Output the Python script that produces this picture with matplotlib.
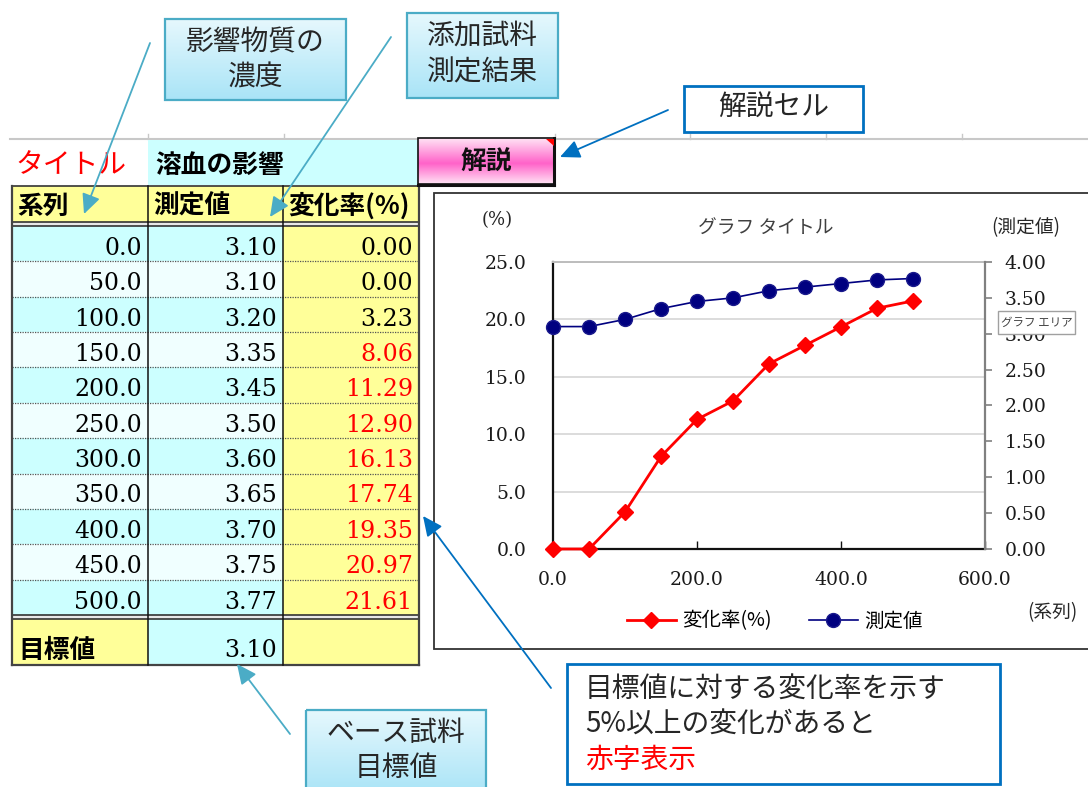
import matplotlib
matplotlib.use("Agg")
import matplotlib.pyplot as plt
import matplotlib.colors as mcolors
import numpy as np
from matplotlib.patches import Rectangle, FancyArrowPatch, Polygon

plt.rcParams['font.family'] = ['Noto Sans CJK JP', 'DejaVu Sans']

# ---- data -------------------------------------------------------------
concentration = [0.0, 50.0, 100.0, 150.0, 200.0, 250.0, 300.0, 350.0, 400.0, 450.0, 500.0]
measured = [3.10, 3.10, 3.20, 3.35, 3.45, 3.50, 3.60, 3.65, 3.70, 3.75, 3.77]
change_rate = [0.00, 0.00, 3.23, 8.06, 11.29, 12.90, 16.13, 17.74, 19.35, 20.97, 21.61]
target_value = 3.10
red_threshold = 5.0
sheet_title = "溶血の影響"
header_labels = ["系列", "測定値", "変化率(%)"]
rate_ticks = [0, 5, 10, 15, 20, 25]
value_ticks = [0.0, 0.5, 1.0, 1.5, 2.0, 2.5, 3.0, 3.5, 4.0]
conc_ticks = [0, 200, 400, 600]

W, H = 1088, 787
fig = plt.figure(figsize=(W / 100, H / 100), dpi=100)
fig.patch.set_facecolor('white')


def pix_axes(z):
    a = fig.add_axes([0, 0, 1, 1], zorder=z)
    a.set_xlim(0, W)
    a.set_ylim(H, 0)
    a.set_autoscale_on(False)
    a.axis('off')
    a.patch.set_visible(False)
    return a


bg = pix_axes(0)
ov = pix_axes(5)

JP = ['Noto Sans CJK JP', 'DejaVu Sans']
SERIF = ['DejaVu Serif']


def gradient_box(a, x0, y0, x1, y1, colors, stops, edge, lw, z=1):
    n = 128
    t = np.linspace(0, 1, n)
    rgb = np.array([mcolors.to_rgb(c) for c in colors])
    img = np.zeros((n, 2, 3))
    for k in range(3):
        img[:, :, k] = np.interp(t, stops, rgb[:, k])[:, None]
    a.imshow(img, extent=(x0, x1, y1, y0), aspect='auto', zorder=z,
             interpolation='bilinear')
    a.add_patch(Rectangle((x0, y0), x1 - x0, y1 - y0, fill=False, ec=edge,
                          lw=lw, zorder=z + 0.1))


def arrow(a, p0, p1, color, lw=1.3):
    a.add_patch(FancyArrowPatch(p0, p1, arrowstyle='-|>,head_length=0.6,head_width=0.28',
                                mutation_scale=20, color=color, lw=lw,
                                shrinkA=0, shrinkB=0, zorder=6))


# ---- sheet gridline at the top of the table ---------------------------
bg.plot([10, W], [138.5, 138.5], color='#c8c8c8', lw=1.5, zorder=1)
for xt in [148, 284, 555, 690, 826, 962]:
    bg.plot([xt, xt], [134, 138.5], color='#c8c8c8', lw=1, zorder=1)

# ---- table ------------------------------------------------------------
col_x = [12, 148, 283, 419]
header_top, header_bot = 186, 222
rows_top, rows_bot = 226, 615
target_top, target_bot = 619, 665
row_h = (rows_bot - rows_top) / len(concentration)
CYAN, LIGHT, YELLOW = '#ccffff', '#f0ffff', '#ffff99'

# title row
bg.text(15, 165, "タイトル", color='#ff0000', fontsize=20, family=JP,
        va='center', ha='left', zorder=3)
bg.add_patch(Rectangle((148, 140), 418 - 148, 45, fc=CYAN, ec='none', zorder=1))
bg.text(155, 165, sheet_title, color='#000000', fontsize=18.5, weight='bold',
        family=JP, va='center', ha='left', zorder=3)

# header
for i, lab in enumerate(header_labels):
    bg.add_patch(Rectangle((col_x[i], header_top), col_x[i + 1] - col_x[i],
                           header_bot - header_top, fc=YELLOW, ec='none', zorder=1))
    bg.text(col_x[i] + 5, 206, lab, fontsize=18.5, weight='bold', family=JP,
            va='center', ha='left', zorder=3)
bg.add_patch(Rectangle((12, header_bot), 407, rows_top - header_bot, fc='#e8e8e8',
                       ec='none', zorder=1))

# data rows
for r, (c, m, p) in enumerate(zip(concentration, measured, change_rate)):
    y0 = rows_top + r * row_h
    shade = CYAN if r % 2 == 0 else LIGHT
    for i, fc in enumerate([shade, shade, YELLOW]):
        bg.add_patch(Rectangle((col_x[i], y0), col_x[i + 1] - col_x[i], row_h,
                               fc=fc, ec='none', zorder=1))
    base = y0 + row_h - 6.5
    bg.text(col_x[1] - 6, base, f"{c:.1f}", family=SERIF, fontsize=17,
            ha='right', va='baseline', zorder=3)
    bg.text(col_x[2] - 6, base, f"{m:.2f}", family=SERIF, fontsize=17,
            ha='right', va='baseline', zorder=3)
    bg.text(col_x[3] - 6, base, f"{p:.2f}", family=SERIF, fontsize=17,
            ha='right', va='baseline', zorder=3,
            color='#ff0000' if p >= red_threshold else '#000000')
    if r > 0:
        bg.plot([12, 419], [y0, y0], color='#555555', lw=0.9,
                ls=(0, (1, 1)), zorder=2)

# target row
bg.add_patch(Rectangle((12, rows_bot), 407, target_top - rows_bot, fc='#e8e8e8',
                       ec='none', zorder=1))
for i, fc in enumerate([YELLOW, CYAN, YELLOW]):
    bg.add_patch(Rectangle((col_x[i], target_top), col_x[i + 1] - col_x[i],
                           target_bot - target_top, fc=fc, ec='none', zorder=1))
bg.text(18, 650, "目標値", fontsize=18.5, weight='bold', family=JP,
        va='center', ha='left', zorder=3)
bg.text(col_x[2] - 6, target_bot - 8, f"{target_value:.2f}", family=SERIF,
        fontsize=17, ha='right', va='baseline', zorder=3)

# table rules
for y in [header_top, header_bot, rows_top, rows_bot, target_top]:
    bg.plot([12, 419], [y, y], color='#333333', lw=1.2, zorder=2)
bg.plot([12, 419], [target_bot, target_bot], color='#444444', lw=1.6, zorder=2)
for x in col_x[1:3]:
    bg.plot([x, x], [header_top, target_bot], color='#111111', lw=1.1, zorder=2)
for x in [col_x[0], col_x[3]]:
    bg.plot([x, x], [header_top, target_bot], color='#444444', lw=1.6, zorder=2)

# help button
gradient_box(bg, 418, 138, 554, 184, ['#ffe4f5', '#ff62c9', '#ffe4f5'],
             [0, 0.55, 1], '#111111', 1.2, z=2)
bg.plot([554, 554], [138, 185], color='#111111', lw=2.2, zorder=2.5)
bg.plot([418, 554], [184.5, 184.5], color='#111111', lw=2.2, zorder=2.5)
bg.add_patch(Polygon([[546, 138.5], [553.5, 138.5], [553.5, 146]], closed=True,
                     fc='#ff0000', ec='none', zorder=2.6))
bg.text(486, 162, "解説", fontsize=18.5, weight='bold', family=JP,
        ha='center', va='center', color='#111111', zorder=3)

# ---- chart ------------------------------------------------------------
bg.add_patch(Rectangle((434, 193), 700, 649 - 193, fc='white', ec='#333333',
                       lw=1.3, zorder=1))

px0, py0, px1, py1 = 553, 262, 985, 549
ax = fig.add_axes([px0 / W, 1 - py1 / H, (px1 - px0) / W, (py1 - py0) / H], zorder=2)
ax2 = ax.twinx()
ax2.set_zorder(2.5)
ax2.patch.set_visible(False)

l_rate, = ax.plot(concentration, change_rate, color='#ff0000', lw=2,
                  marker='D', markersize=8.5, markerfacecolor='#ff0000',
                  markeredgecolor='#ff0000', label='変化率(%)', clip_on=False,
                  zorder=3)
l_meas, = ax2.plot(concentration, measured, color='#000080', lw=1.2,
                   marker='o', markersize=10, markerfacecolor='#000080',
                   markeredgecolor='#1a1a8c', label='測定値', clip_on=False,
                   zorder=3)

ax.set_xlim(0, 600)
ax.set_ylim(0, 25)
ax2.set_ylim(0, 4)
ax.set_xticks(conc_ticks, labels=[f"{v:.1f}" for v in conc_ticks],
              family=SERIF, fontsize=13.5)
ax.set_yticks(rate_ticks, labels=[f"{v:.1f}" for v in rate_ticks],
              family=SERIF, fontsize=13.5)
ax2.set_yticks(value_ticks, labels=[f"{v:.2f}" for v in value_ticks],
               family=SERIF, fontsize=13.5)

ax.yaxis.grid(True, color='#d9d9d9', lw=1.3)
ax.set_axisbelow(True)
ax.tick_params(axis='y', length=0, pad=19, labelcolor='#1a1a1a')
ax.tick_params(axis='x', direction='in', length=6, width=1, color='#111111',
               pad=16, labelcolor='#1a1a1a')
ax2.tick_params(axis='y', direction='out', length=5, width=1.2, color='#808080',
                pad=9, labelcolor='#1a1a1a')

for s in ['left', 'bottom']:
    ax.spines[s].set_color('#111111')
    ax.spines[s].set_linewidth(1.6)
ax.spines['top'].set_color('#bdbdbd')
ax.spines['top'].set_linewidth(1.4)
ax.spines['right'].set_visible(False)
for s in ['left', 'bottom', 'top']:
    ax2.spines[s].set_visible(False)
ax2.spines['right'].set_color('#808080')
ax2.spines['right'].set_linewidth(1.6)

bg.text(766, 228, "グラフ タイトル", fontsize=13.5, color='#404040', family=JP,
        ha='center', va='center', zorder=3)
bg.text(497, 220, "(%)", fontsize=13, color='#262626', family=SERIF,
        ha='center', va='center', zorder=3)
bg.text(1026, 228, "(測定値)", fontsize=13.5, color='#262626', family=JP,
        ha='center', va='center', zorder=3)
bg.text(1052, 613, "(系列)", fontsize=13.5, color='#262626', family=JP,
        ha='center', va='center', zorder=3)

leg = ax.legend([l_rate, l_meas], ['変化率(%)', '測定値'], loc='center',
                bbox_to_anchor=(775, 621), bbox_transform=bg.transData,
                ncol=2, frameon=False, handlelength=2.5, handletextpad=0.35,
                columnspacing=1.9, prop={'family': JP, 'size': 14})

# chart area tooltip
ov.add_patch(Rectangle((998, 311), 77, 23, fc='white', ec='#a0a0a0', lw=1, zorder=6))
ov.text(1036.5, 322.5, "グラフ エリア", fontsize=8.3, color='#404040', family=JP,
        ha='center', va='center', zorder=7)

# ---- callouts ---------------------------------------------------------
CALLOUT_FILL = ['#e6f8fd', '#a9e4f7']
CALLOUT_EDGE = '#4bacc6'
BLUE = '#0070c0'
TXT = '#262626'

gradient_box(bg, 165, 19, 346, 100, CALLOUT_FILL, [0, 1], CALLOUT_EDGE, 1.6, z=2)
bg.text(255.5, 42, "影響物質の", fontsize=20, family=JP, color=TXT,
        ha='center', va='center', zorder=3)
bg.text(255.5, 78, "濃度", fontsize=20, family=JP, color=TXT,
        ha='center', va='center', zorder=3)

gradient_box(bg, 407, 13, 558, 98, CALLOUT_FILL, [0, 1], CALLOUT_EDGE, 1.6, z=2)
bg.text(482.5, 36, "添加試料", fontsize=20, family=JP, color=TXT,
        ha='center', va='center', zorder=3)
bg.text(482.5, 72, "測定結果", fontsize=20, family=JP, color=TXT,
        ha='center', va='center', zorder=3)

bg.add_patch(Rectangle((684, 86), 179, 46, fc='white', ec=BLUE, lw=2, zorder=2))
bg.text(773.5, 108, "解説セル", fontsize=20, family=JP, color=TXT,
        ha='center', va='center', zorder=3)

gradient_box(bg, 306, 710, 486, 795, CALLOUT_FILL, [0, 1], CALLOUT_EDGE, 1.6, z=2)
bg.text(396, 733, "ベース試料", fontsize=20, family=JP, color=TXT,
        ha='center', va='center', zorder=3)
bg.text(396, 768, "目標値", fontsize=20, family=JP, color=TXT,
        ha='center', va='center', zorder=3)

bg.add_patch(Rectangle((567, 664), 433, 120, fc='white', ec=BLUE, lw=2, zorder=2))
bg.text(585, 689, "目標値に対する変化率を示す", fontsize=20, family=JP, color=TXT,
        ha='left', va='center', zorder=3)
bg.text(585, 725, "5%以上の変化があると", fontsize=20, family=JP, color=TXT,
        ha='left', va='center', zorder=3)
bg.text(585, 760, "赤字表示", fontsize=20, family=JP, color='#ff0000',
        ha='left', va='center', zorder=3)

# leader arrows
arrow(ov, (150, 43), (84, 214), CALLOUT_EDGE)
arrow(ov, (391, 37), (270, 217), CALLOUT_EDGE)
arrow(ov, (668, 110), (560, 157), BLUE)
arrow(ov, (551, 688), (423, 516), BLUE)
arrow(ov, (290, 734), (237, 664), CALLOUT_EDGE)

fig.savefig('out.png', dpi=100, facecolor='white')
